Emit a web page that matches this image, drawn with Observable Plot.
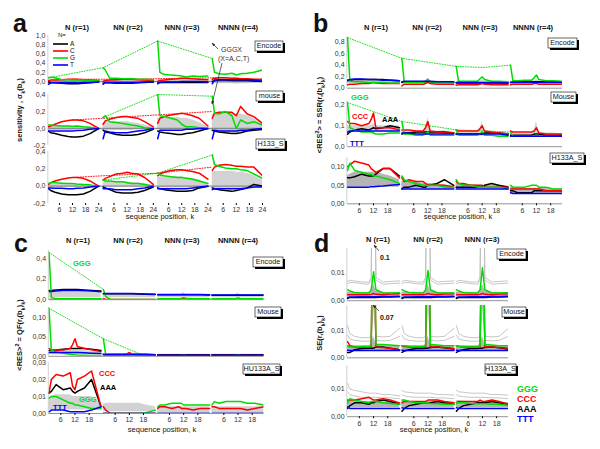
<!DOCTYPE html>
<html><head><meta charset="utf-8">
<script src="https://cdn.jsdelivr.net/npm/d3@7"></script>
<script src="https://cdn.jsdelivr.net/npm/@observablehq/plot@0.6"></script>
<style>
body{margin:0;background:#fff}
#root{position:relative;width:600px;height:449px;overflow:hidden;font-family:"Liberation Sans",Arial,sans-serif;background:#fff}
</style>
</head><body><div id="root"></div>
<script>
// ---------- sampling positions and tick labels ----------
const kA = [1,2,4,7,10,12,14,17,20,24];
const kB = [1,2,4,7,10,11,12,13,16,19,23];
const segTitles4 = ["N (r=1)","NN (r=2)","NNN (r=3)","NNNN (r=4)"];
const segTitles3 = ["N (r=1)","NN (r=2)","NNN (r=3)"];
const xTicksA = [6,12,18,24];
const xTicksB = [6,12,18];

// ---------- panel a : Encode ----------
const aEnc_G = [[0.08,0.09,0.08,0.04,0.04,0.03,0.03,0.03,0.02,0.01],[0.30,0.25,0.07,0.07,0.06,0.06,0.06,0.05,0.05,0.04],[0.88,0.20,0.15,0.14,0.13,0.12,0.10,0.12,0.11,0.12],[0.50,0.20,0.17,0.16,0.18,0.14,0.17,0.18,0.20,0.25]];
const aEnc_C = [[0.02,0.03,0.03,0.04,0.05,0.05,0.05,0.04,0.03,0.02],[0.00,0.02,0.03,0.04,0.05,0.05,0.05,0.04,0.03,0.02],[0.00,0.02,0.03,0.05,0.06,0.07,0.07,0.06,0.05,0.04],[0.05,0.07,0.08,0.08,0.07,0.07,0.06,0.06,0.05,0.05]];
const aEnc_A = [[-0.01,-0.02,-0.03,-0.04,-0.05,-0.05,-0.05,-0.04,-0.03,-0.01],[-0.04,-0.03,-0.03,-0.04,-0.04,-0.04,-0.04,-0.03,-0.02,-0.01],[-0.03,-0.02,-0.02,-0.02,-0.02,-0.02,-0.02,-0.02,-0.02,-0.02],[0.00,0.02,0.03,0.03,0.02,0.02,0.02,0.02,0.01,0.00]];
const aEnc_T = [[-0.06,-0.03,-0.03,-0.03,-0.03,-0.03,-0.03,-0.02,-0.02,-0.01],[-0.06,-0.02,-0.02,-0.02,-0.02,-0.02,-0.02,-0.02,-0.01,-0.01],[-0.05,-0.02,-0.01,-0.01,-0.01,0.00,0.00,0.00,0.00,-0.01],[-0.05,0.03,0.04,0.04,0.04,0.04,0.04,0.04,0.03,0.01]];
const aEnc_lo = [[-0.03,-0.03,-0.03,-0.03,-0.03,-0.03,-0.03,-0.03,-0.02,-0.01],[-0.03,-0.03,-0.03,-0.03,-0.03,-0.03,-0.03,-0.03,-0.02,-0.01],[-0.04,-0.04,-0.04,-0.04,-0.04,-0.04,-0.04,-0.03,-0.03,-0.02],[-0.05,-0.05,-0.05,-0.05,-0.05,-0.06,-0.05,-0.05,-0.04,-0.02]];
const aEnc_hi = [[0.02,0.03,0.03,0.03,0.03,0.03,0.03,0.03,0.02,0.01],[0.03,0.03,0.03,0.03,0.03,0.03,0.03,0.03,0.02,0.01],[0.05,0.05,0.05,0.05,0.05,0.05,0.05,0.04,0.04,0.03],[0.08,0.08,0.07,0.07,0.07,0.08,0.07,0.06,0.05,0.04]];
const aEnc_dotG = [[0,1,0.08],[1,1,0.30],[2,1,0.88],[3,1,0.50]];
const aEnc_dotC = [[0,12,0.05],[1,12,0.05],[2,12,0.07],[3,4,0.08]];

// ---------- panel a : mouse ----------
const aMou_G = [[0.04,0.04,0.035,0.03,0.03,0.025,0.03,0.02,0.015,0.0],[0.13,0.15,0.08,0.07,0.06,0.05,0.04,0.03,0.01,0.0],[0.40,0.15,0.14,0.12,0.10,0.05,0.02,0.02,0.01,0.0],[0.38,0.18,0.17,0.20,0.15,0.0,0.10,0.06,0.08,0.04]];
const aMou_C = [[0.02,0.03,0.05,0.08,0.095,0.10,0.10,0.09,0.06,0.0],[0.05,0.09,0.11,0.13,0.14,0.14,0.13,0.12,0.08,0.02],[0.06,0.12,0.14,0.16,0.17,0.18,0.17,0.15,0.12,0.03],[0.12,0.18,0.19,0.19,0.19,0.15,0.26,0.17,0.14,0.06]];
const aMou_A = [[-0.03,-0.05,-0.06,-0.08,-0.095,-0.10,-0.10,-0.09,-0.06,0.0],[-0.02,-0.04,-0.05,-0.07,-0.08,-0.08,-0.08,-0.07,-0.05,-0.01],[-0.03,-0.04,-0.05,-0.06,-0.07,-0.07,-0.06,-0.05,-0.03,0.0],[-0.02,-0.03,-0.04,-0.05,-0.06,-0.06,-0.05,-0.03,-0.02,-0.01]];
const aMou_T = [[-0.03,-0.03,-0.03,-0.03,-0.03,-0.03,-0.025,-0.02,-0.01,0.0],[-0.12,-0.03,-0.04,-0.05,-0.05,-0.05,-0.04,-0.03,-0.02,0.0],[-0.12,-0.02,-0.02,-0.02,-0.02,-0.02,-0.01,-0.01,0.0,0.0],[-0.12,-0.02,-0.03,-0.03,-0.03,-0.03,-0.02,-0.02,-0.01,0.0]];
const aMou_lo = [[-0.02,-0.02,-0.02,-0.02,-0.02,-0.02,-0.02,-0.01,-0.01,0.0],[-0.02,-0.02,-0.02,-0.02,-0.02,-0.02,-0.02,-0.01,-0.01,0.0],[-0.01,-0.01,-0.01,-0.01,-0.01,-0.01,-0.01,-0.01,0.0,0.0],[-0.04,-0.04,-0.04,-0.05,-0.05,-0.07,-0.05,-0.04,-0.03,-0.01]];
const aMou_hi = [[0.02,0.03,0.03,0.03,0.03,0.03,0.03,0.02,0.01,0.0],[0.06,0.08,0.08,0.08,0.08,0.08,0.07,0.06,0.04,0.01],[0.12,0.12,0.13,0.13,0.13,0.12,0.12,0.10,0.07,0.02],[0.17,0.17,0.18,0.18,0.18,0.17,0.17,0.15,0.12,0.05]];
const aMou_dotG = [[1,1,0.13],[2,1,0.40],[3,1,0.38]];
const aMou_dotC = [[0,12,0.10],[1,1,0.12],[2,1,0.16],[3,1,0.20]];

// ---------- panel a : H133_S ----------
const aH_G = [[0.03,0.04,0.04,0.035,0.03,0.03,0.025,0.02,0.015,0.0],[0.07,0.06,0.06,0.05,0.05,0.04,0.03,0.03,0.02,0.0],[0.15,0.13,0.12,0.11,0.10,0.10,0.09,0.08,0.06,0.03],[0.36,0.25,0.23,0.21,0.20,0.20,0.19,0.18,0.14,0.09]];
const aH_C = [[0.02,0.04,0.06,0.08,0.095,0.10,0.10,0.09,0.06,0.0],[0.07,0.09,0.11,0.14,0.15,0.16,0.15,0.14,0.10,0.02],[0.12,0.14,0.16,0.18,0.19,0.19,0.18,0.17,0.15,0.08],[0.18,0.22,0.24,0.25,0.24,0.23,0.23,0.22,0.22,0.12]];
const aH_A = [[-0.03,-0.05,-0.07,-0.09,-0.10,-0.10,-0.10,-0.09,-0.06,0.0],[-0.01,-0.02,-0.04,-0.07,-0.08,-0.08,-0.08,-0.07,-0.05,-0.01],[-0.02,-0.03,-0.04,-0.05,-0.06,-0.06,-0.06,-0.05,-0.02,0.0],[-0.02,-0.03,-0.04,-0.05,-0.06,-0.05,-0.04,-0.02,0.02,0.0]];
const aH_T = [[-0.02,-0.02,-0.025,-0.025,-0.03,-0.03,-0.025,-0.02,-0.01,0.0],[-0.03,-0.03,-0.03,-0.04,-0.04,-0.04,-0.04,-0.03,-0.02,0.0],[-0.03,-0.03,-0.03,-0.03,-0.03,-0.03,-0.03,-0.02,-0.01,0.0],[-0.04,-0.03,-0.03,-0.03,-0.03,-0.03,-0.03,-0.02,-0.01,-0.01]];
const aH_lo = [[-0.01,-0.01,-0.01,-0.01,-0.01,-0.01,-0.01,-0.01,0.0,0.0],[-0.01,-0.01,-0.01,-0.01,-0.01,-0.01,-0.01,-0.01,0.0,0.0],[-0.02,-0.02,-0.02,-0.02,-0.02,-0.02,-0.02,-0.01,-0.01,0.0],[-0.03,-0.03,-0.03,-0.03,-0.03,-0.03,-0.03,-0.02,-0.02,-0.01]];
const aH_hi = [[0.02,0.02,0.02,0.02,0.02,0.02,0.02,0.02,0.01,0.0],[0.04,0.05,0.05,0.05,0.05,0.05,0.04,0.04,0.03,0.01],[0.10,0.11,0.11,0.11,0.11,0.11,0.10,0.09,0.07,0.03],[0.16,0.17,0.17,0.17,0.17,0.16,0.16,0.15,0.12,0.07]];
const aH_dotG = [[1,1,0.07],[2,1,0.15],[3,1,0.36]];
const aH_dotC = [[0,12,0.10],[1,1,0.12],[2,1,0.15],[3,1,0.22]];

// ---------- panel b : Encode ----------
const bEnc_G = [[0.88,0.12,0.11,0.11,0.10,0.10,0.10,0.10,0.10,0.09,0.09],[0.52,0.10,0.10,0.10,0.10,0.12,0.16,0.11,0.10,0.10,0.10],[0.38,0.12,0.12,0.12,0.12,0.16,0.20,0.15,0.12,0.12,0.11],[0.40,0.13,0.13,0.14,0.14,0.18,0.23,0.15,0.13,0.13,0.12]];
const bEnc_C = [[0.06,0.07,0.07,0.08,0.08,0.09,0.10,0.09,0.08,0.08,0.08],[0.04,0.07,0.07,0.07,0.07,0.08,0.10,0.08,0.07,0.07,0.07],[0.05,0.06,0.06,0.06,0.06,0.07,0.08,0.07,0.06,0.06,0.06],[0.06,0.07,0.07,0.07,0.07,0.08,0.08,0.07,0.07,0.07,0.07]];
const bEnc_A = [[0.13,0.14,0.15,0.15,0.15,0.15,0.15,0.15,0.15,0.14,0.13],[0.10,0.11,0.11,0.11,0.11,0.11,0.11,0.11,0.10,0.10,0.10],[0.09,0.09,0.09,0.09,0.09,0.09,0.09,0.09,0.09,0.09,0.09],[0.10,0.11,0.11,0.11,0.11,0.11,0.11,0.11,0.11,0.11,0.11]];
const bEnc_T = [[0.14,0.15,0.16,0.16,0.15,0.15,0.15,0.15,0.14,0.14,0.13],[0.11,0.12,0.12,0.12,0.12,0.12,0.12,0.12,0.11,0.11,0.11],[0.10,0.10,0.10,0.10,0.10,0.10,0.10,0.10,0.10,0.10,0.09],[0.10,0.10,0.10,0.10,0.10,0.10,0.10,0.10,0.10,0.10,0.10]];
const bEnc_lo = [[0.08,0.08,0.08,0.08,0.08,0.08,0.08,0.08,0.08,0.08,0.08],[0.08,0.08,0.08,0.08,0.08,0.08,0.08,0.08,0.08,0.08,0.08],[0.07,0.07,0.07,0.07,0.07,0.07,0.07,0.07,0.07,0.07,0.07],[0.08,0.08,0.08,0.08,0.08,0.08,0.08,0.08,0.08,0.08,0.08]];
const bEnc_hi = [[0.15,0.15,0.15,0.15,0.15,0.15,0.16,0.15,0.15,0.15,0.14],[0.12,0.12,0.12,0.12,0.12,0.13,0.15,0.12,0.12,0.12,0.12],[0.11,0.11,0.11,0.11,0.11,0.12,0.14,0.12,0.11,0.11,0.11],[0.11,0.11,0.11,0.11,0.11,0.12,0.15,0.12,0.11,0.11,0.11]];
const bEnc_dotG = [[0,1,0.88],[1,1,0.52],[2,1,0.38],[2,12,0.36],[3,1,0.40]];

// ---------- panel b : Mouse ----------
const bMou_G = [[0.21,0.09,0.08,0.07,0.07,0.07,0.065,0.06,0.06,0.065,0.065],[0.12,0.06,0.06,0.055,0.055,0.06,0.07,0.055,0.055,0.055,0.055],[0.08,0.055,0.055,0.055,0.055,0.06,0.07,0.055,0.055,0.05,0.05],[0.07,0.05,0.05,0.05,0.05,0.05,0.055,0.05,0.05,0.05,0.05]];
const bMou_C = [[0.12,0.11,0.11,0.10,0.11,0.13,0.16,0.09,0.09,0.09,0.08],[0.08,0.08,0.08,0.075,0.075,0.09,0.12,0.075,0.07,0.065,0.065],[0.08,0.075,0.075,0.075,0.075,0.085,0.10,0.075,0.07,0.065,0.06],[0.075,0.07,0.07,0.07,0.07,0.075,0.09,0.065,0.06,0.06,0.06]];
const bMou_A = [[0.06,0.07,0.08,0.085,0.08,0.085,0.09,0.085,0.09,0.10,0.09],[0.06,0.065,0.065,0.07,0.07,0.07,0.07,0.07,0.07,0.07,0.065],[0.06,0.06,0.06,0.06,0.06,0.06,0.06,0.065,0.065,0.065,0.06],[0.055,0.055,0.055,0.055,0.055,0.06,0.06,0.06,0.055,0.055,0.055]];
const bMou_T = [[0.07,0.075,0.075,0.075,0.075,0.075,0.075,0.075,0.075,0.075,0.075],[0.065,0.065,0.065,0.06,0.06,0.06,0.06,0.06,0.06,0.06,0.06],[0.06,0.06,0.06,0.06,0.06,0.06,0.06,0.06,0.06,0.06,0.055],[0.05,0.05,0.05,0.05,0.05,0.05,0.05,0.05,0.05,0.05,0.05]];
const bMou_lo = [[0.065,0.07,0.07,0.07,0.07,0.07,0.07,0.07,0.07,0.07,0.07],[0.055,0.055,0.055,0.055,0.055,0.055,0.055,0.055,0.055,0.055,0.055],[0.05,0.05,0.05,0.05,0.05,0.05,0.05,0.05,0.05,0.05,0.05],[0.048,0.048,0.048,0.048,0.048,0.048,0.048,0.048,0.048,0.048,0.048]];
const bMou_hi = [[0.10,0.10,0.10,0.10,0.10,0.10,0.11,0.10,0.10,0.10,0.10],[0.075,0.075,0.075,0.075,0.075,0.085,0.14,0.08,0.075,0.075,0.07],[0.07,0.07,0.07,0.07,0.07,0.08,0.12,0.075,0.07,0.07,0.065],[0.065,0.065,0.065,0.065,0.065,0.075,0.12,0.07,0.065,0.065,0.06]];
const bMou_dotG = [[0,1,0.21],[1,1,0.12],[2,1,0.08],[3,1,0.07]];

// ---------- panel b : H133A_S ----------
const bH_G = [[0.09,0.11,0.09,0.085,0.08,0.08,0.075,0.075,0.07,0.065,0.055],[0.075,0.065,0.06,0.055,0.05,0.05,0.048,0.05,0.05,0.045,0.045],[0.065,0.055,0.05,0.05,0.045,0.045,0.045,0.045,0.045,0.045,0.04],[0.05,0.045,0.045,0.045,0.05,0.05,0.05,0.045,0.045,0.04,0.04]];
const bH_C = [[0.10,0.105,0.115,0.11,0.105,0.095,0.09,0.085,0.095,0.095,0.07],[0.07,0.06,0.065,0.06,0.06,0.055,0.05,0.05,0.05,0.05,0.045],[0.06,0.055,0.055,0.05,0.05,0.05,0.05,0.045,0.045,0.045,0.045],[0.04,0.04,0.04,0.04,0.04,0.04,0.04,0.04,0.035,0.035,0.035]];
const bH_A = [[0.07,0.07,0.073,0.08,0.075,0.075,0.075,0.08,0.095,0.095,0.075],[0.04,0.045,0.045,0.05,0.045,0.045,0.05,0.05,0.055,0.065,0.05],[0.045,0.045,0.045,0.045,0.045,0.045,0.045,0.05,0.055,0.05,0.045],[0.035,0.035,0.03,0.03,0.03,0.035,0.035,0.035,0.035,0.035,0.035]];
const bH_T = [[0.045,0.045,0.045,0.045,0.045,0.046,0.046,0.047,0.048,0.05,0.052],[0.04,0.04,0.04,0.04,0.04,0.04,0.04,0.04,0.04,0.04,0.04],[0.04,0.04,0.04,0.04,0.04,0.04,0.04,0.04,0.04,0.04,0.04],[0.03,0.028,0.028,0.028,0.028,0.028,0.028,0.028,0.028,0.028,0.028]];
const bH_lo = [[0.045,0.045,0.045,0.045,0.045,0.045,0.045,0.045,0.045,0.045,0.045],[0.04,0.04,0.04,0.04,0.04,0.04,0.04,0.04,0.04,0.04,0.04],[0.04,0.04,0.04,0.04,0.04,0.04,0.04,0.04,0.04,0.04,0.04],[0.028,0.028,0.028,0.028,0.028,0.028,0.028,0.028,0.028,0.028,0.028]];
const bH_hi = [[0.075,0.08,0.085,0.085,0.085,0.085,0.085,0.085,0.08,0.075,0.065],[0.06,0.06,0.06,0.058,0.055,0.055,0.055,0.055,0.055,0.05,0.05],[0.055,0.055,0.053,0.052,0.05,0.05,0.05,0.05,0.05,0.05,0.048],[0.045,0.045,0.043,0.042,0.042,0.042,0.042,0.042,0.042,0.04,0.04]];

// ---------- panel c : Encode ----------
const cEnc_G = [[0.46,0.02,0.01,0.01,0.01,0.01,0.01,0.01,0.01,0.01,0.01],[0.10,0.03,0.004,0.002,0.002,0.002,0.002,0.002,0.002,0.002,0.002],[0.01,0.01,0.01,0.01,0.01,0.014,0.02,0.014,0.01,0.01,0.01],[0.01,0.01,0.01,0.01,0.01,0.012,0.016,0.012,0.01,0.01,0.01]];
const cEnc_C = [[0.003,0.003,0.003,0.003,0.003,0.003,0.003,0.003,0.003,0.003,0.003],[0.01,0.004,0.002,0.002,0.002,0.002,0.002,0.002,0.002,0.002,0.002],[0.002,0.002,0.002,0.002,0.002,0.006,0.012,0.006,0.002,0.002,0.002],[0.002,0.002,0.002,0.002,0.002,0.006,0.012,0.006,0.002,0.002,0.002]];
const cEnc_A = [[0.09,0.09,0.095,0.10,0.10,0.10,0.10,0.10,0.095,0.09,0.085],[0.057,0.057,0.057,0.057,0.057,0.057,0.057,0.057,0.055,0.054,0.051],[0.047,0.047,0.047,0.047,0.047,0.047,0.047,0.047,0.047,0.047,0.045],[0.043,0.043,0.043,0.043,0.043,0.043,0.043,0.043,0.043,0.043,0.043]];
const cEnc_T = [[0.08,0.08,0.085,0.09,0.09,0.09,0.09,0.09,0.088,0.084,0.078],[0.06,0.06,0.06,0.06,0.06,0.06,0.06,0.06,0.058,0.056,0.054],[0.05,0.05,0.05,0.05,0.05,0.05,0.05,0.05,0.05,0.05,0.048],[0.045,0.045,0.045,0.045,0.045,0.045,0.045,0.045,0.045,0.045,0.045]];
const cEnc_lo = [[0.02,0.02,0.02,0.02,0.02,0.02,0.02,0.02,0.02,0.02,0.02],[0.02,0.02,0.02,0.02,0.02,0.02,0.02,0.02,0.02,0.02,0.02],[0.02,0.02,0.02,0.02,0.02,0.02,0.02,0.02,0.02,0.02,0.02],[0.02,0.02,0.02,0.02,0.02,0.02,0.02,0.02,0.02,0.02,0.02]];
const cEnc_hi = [[0.07,0.07,0.075,0.075,0.075,0.075,0.075,0.075,0.07,0.07,0.065],[0.055,0.055,0.055,0.055,0.055,0.055,0.055,0.055,0.055,0.05,0.05],[0.045,0.045,0.045,0.045,0.045,0.05,0.07,0.05,0.045,0.045,0.045],[0.04,0.04,0.04,0.04,0.04,0.045,0.065,0.045,0.04,0.04,0.04]];
const cEnc_dotG = [[0,1,0.46],[1,1,0.10]];

// ---------- panel c : Mouse ----------
const cMou_G = [[0.123,0.015,0.012,0.008,0.005,0.004,0.004,0.003,0.003,0.002,0.002],[0.045,0.004,0.001,0.001,0.001,0.001,0.001,0.001,0.001,0.001,0.001],[0.001,0.001,0.001,0.001,0.001,0.002,0.003,0.002,0.001,0.001,0.001],[0.001,0.001,0.001,0.001,0.001,0.002,0.003,0.002,0.001,0.001,0.001]];
const cMou_C = [[0.02,0.016,0.016,0.016,0.02,0.03,0.045,0.025,0.02,0.017,0.012],[0.004,0.004,0.004,0.004,0.004,0.006,0.01,0.005,0.004,0.003,0.003],[0.002,0.002,0.002,0.002,0.002,0.002,0.003,0.002,0.002,0.002,0.002],[0.002,0.002,0.002,0.002,0.002,0.002,0.003,0.002,0.002,0.002,0.002]];
const cMou_A = [[0.015,0.015,0.016,0.018,0.02,0.02,0.02,0.02,0.02,0.018,0.015],[0.005,0.005,0.005,0.005,0.005,0.005,0.005,0.005,0.005,0.005,0.004],[0.004,0.004,0.004,0.004,0.004,0.004,0.004,0.004,0.004,0.004,0.004],[0.004,0.004,0.004,0.004,0.004,0.004,0.004,0.004,0.004,0.004,0.004]];
const cMou_T = [[0.01,0.01,0.01,0.01,0.01,0.01,0.01,0.01,0.009,0.008,0.007],[0.004,0.004,0.004,0.004,0.004,0.004,0.004,0.004,0.004,0.004,0.004],[0.003,0.003,0.003,0.003,0.003,0.003,0.003,0.003,0.003,0.003,0.003],[0.003,0.003,0.003,0.003,0.003,0.003,0.003,0.003,0.003,0.003,0.003]];
const cMou_lo = [[0.004,0.004,0.004,0.004,0.004,0.004,0.004,0.004,0.004,0.004,0.004],[0.001,0.001,0.001,0.001,0.001,0.001,0.001,0.001,0.001,0.001,0.001],[0.001,0.001,0.001,0.001,0.001,0.001,0.001,0.001,0.001,0.001,0.001],[0.001,0.001,0.001,0.001,0.001,0.001,0.001,0.001,0.001,0.001,0.001]];
const cMou_hi = [[0.014,0.015,0.015,0.015,0.015,0.015,0.016,0.015,0.014,0.013,0.011],[0.006,0.006,0.006,0.006,0.006,0.006,0.007,0.006,0.006,0.006,0.006],[0.005,0.005,0.005,0.005,0.005,0.005,0.006,0.005,0.005,0.005,0.005],[0.005,0.005,0.005,0.005,0.005,0.005,0.006,0.005,0.005,0.005,0.005]];
const cMou_dotG = [[0,1,0.123],[1,1,0.045],[1,19,0.0]];

// ---------- panel c : HU133A_S ----------
const cH_G = [[0.009,0.01,0.01,0.008,0.006,0.006,0.005,0.005,0.004,0.003,0.003],[0.0,0.0,0.0,0.0,0.0,0.0,0.0,0.0,0.0,0.0005,0.002],[0.004,0.005,0.005,0.006,0.006,0.006,0.005,0.005,0.005,0.005,0.005],[0.005,0.007,0.006,0.007,0.007,0.007,0.007,0.007,0.006,0.006,0.005]];
const cH_C = [[0.012,0.02,0.023,0.022,0.024,0.016,0.014,0.02,0.022,0.025,0.004],[0.004,0.002,0.0,0.0,0.0,0.0,0.0,0.0,0.0,0.0,0.0],[0.003,0.004,0.004,0.003,0.004,0.003,0.003,0.003,0.002,0.003,0.003],[0.004,0.004,0.003,0.003,0.003,0.003,0.003,0.003,0.002,0.003,0.004]];
const cH_A = [[0.012,0.013,0.017,0.014,0.015,0.013,0.012,0.013,0.015,0.02,0.004],[0.0,0.0,0.0,0.0,0.0,0.0,0.0,0.0,0.0,0.0,0.0],[0.0,0.0,0.0,0.0,0.0,0.0,0.0,0.0,0.0,0.0,0.0],[0.0,0.0,0.0,0.0,0.0,0.0,0.0,0.0,0.0,0.0,0.0]];
const cH_T = [[0.001,0.002,0.002,0.002,0.001,0.001,0.001,0.001,0.001,0.002,0.004],[0.0,0.0,0.0,0.0,0.0,0.0,0.0,0.0,0.0,0.0,0.0],[0.0,0.0,0.0,0.0,0.0,0.0,0.0,0.0,0.0,0.0,0.0],[0.0,0.0,0.0,0.0,0.0,0.0,0.0,0.0,0.0,0.0,0.0]];
const cH_lo = [[0.002,0.002,0.002,0.002,0.002,0.002,0.002,0.002,0.002,0.002,0.002],[0.001,0.001,0.001,0.001,0.001,0.001,0.001,0.001,0.001,0.001,0.001],[0.0005,0.0005,0.0005,0.0005,0.0005,0.0005,0.0005,0.0005,0.0005,0.0005,0.0005],[0.0005,0.0005,0.0005,0.0005,0.0005,0.0005,0.0005,0.0005,0.0005,0.0005,0.0005]];
const cH_hi = [[0.008,0.01,0.011,0.011,0.011,0.01,0.01,0.01,0.01,0.01,0.006],[0.005,0.006,0.006,0.006,0.006,0.006,0.006,0.006,0.006,0.005,0.004],[0.004,0.004,0.004,0.004,0.004,0.004,0.004,0.004,0.004,0.004,0.004],[0.004,0.004,0.004,0.004,0.004,0.004,0.004,0.004,0.004,0.004,0.004]];

// ---------- panel d : Encode ----------
const dEnc_G = [[0.004,0.0035,0.003,0.0028,0.0028,0.004,0.0105,0.004,0.0028,0.0028,0.0029],[0.004,0.0035,0.003,0.0028,0.0028,0.004,0.011,0.004,0.0028,0.0028,0.0028],[0.004,0.0035,0.003,0.0028,0.0028,0.004,0.012,0.004,0.0028,0.0028,0.0029]];
const dEnc_C = [[0.0022,0.0022,0.0022,0.0022,0.0022,0.0023,0.0026,0.0023,0.0022,0.0024,0.0025],[0.0022,0.0022,0.0022,0.0022,0.0022,0.0023,0.0026,0.0023,0.0022,0.0024,0.0025],[0.0022,0.0022,0.0022,0.0022,0.0022,0.0023,0.0026,0.0023,0.0022,0.0024,0.0025]];
const dEnc_A = [[0.0008,0.0012,0.0012,0.0012,0.0012,0.0012,0.0012,0.0012,0.0013,0.0013,0.0014],[0.0008,0.0012,0.0012,0.0012,0.0012,0.0012,0.0012,0.0012,0.0013,0.0013,0.0014],[0.0008,0.0012,0.0012,0.0012,0.0012,0.0012,0.0012,0.0012,0.0013,0.0013,0.0014]];
const dEnc_T = [[0.0012,0.0013,0.0013,0.0014,0.0014,0.0014,0.0014,0.0014,0.0015,0.0015,0.0016],[0.0012,0.0013,0.0013,0.0014,0.0014,0.0014,0.0014,0.0014,0.0015,0.0015,0.0016],[0.0012,0.0013,0.0013,0.0014,0.0014,0.0014,0.0014,0.0014,0.0015,0.0015,0.0016]];
const dEnc_lo = [[0.0016,0.0016,0.0016,0.0016,0.0016,0.0016,0.0016,0.0016,0.0016,0.0016,0.0016],[0.0016,0.0016,0.0016,0.0016,0.0016,0.0016,0.0016,0.0016,0.0016,0.0016,0.0016],[0.0016,0.0016,0.0016,0.0016,0.0016,0.0016,0.0016,0.0016,0.0016,0.0016,0.0016]];
const dEnc_hi = [[0.0032,0.003,0.003,0.003,0.003,0.0035,0.006,0.0035,0.003,0.003,0.003],[0.0032,0.003,0.003,0.003,0.003,0.0035,0.006,0.0035,0.003,0.003,0.003],[0.0032,0.003,0.003,0.003,0.003,0.0035,0.006,0.0035,0.003,0.003,0.003]];
const dEnc_g1 = [[0.0062,0.0066,0.0066,0.0062,0.006,0.0075,0.1,0.0075,0.006,0.0062,0.0064],[0.0062,0.0066,0.0066,0.0062,0.006,0.0075,0.1,0.0075,0.006,0.0062,0.0064],[0.0062,0.0066,0.0066,0.0062,0.006,0.0075,0.1,0.0075,0.006,0.0062,0.0064]];
const dEnc_g2 = [[0.007,0.0074,0.0072,0.0068,0.0068,0.0085,0.1,0.0085,0.0068,0.007,0.0072],[0.007,0.0074,0.0072,0.0068,0.0068,0.0085,0.1,0.0085,0.0068,0.007,0.0072],[0.007,0.0074,0.0072,0.0068,0.0068,0.0085,0.1,0.0085,0.0068,0.007,0.0072]];

// ---------- panel d : Mouse ----------
const dMou_G = [[0.0045,0.004,0.004,0.0042,0.0042,0.0045,0.07,0.005,0.005,0.0048,0.0045],[0.0045,0.0045,0.0043,0.0042,0.0042,0.0045,0.07,0.005,0.0048,0.0045,0.0045],[0.0045,0.0042,0.0042,0.004,0.004,0.0045,0.07,0.005,0.0048,0.0045,0.0045]];
const dMou_C = [[0.006,0.0045,0.004,0.004,0.004,0.004,0.07,0.004,0.0038,0.0035,0.003],[0.0045,0.0042,0.004,0.004,0.004,0.004,0.07,0.004,0.004,0.0038,0.0035],[0.0045,0.0042,0.004,0.004,0.004,0.004,0.07,0.004,0.004,0.0038,0.0035]];
const dMou_A = [[0.002,0.002,0.003,0.0035,0.0036,0.0036,0.0036,0.004,0.004,0.0036,0.003],[0.002,0.0025,0.003,0.0035,0.0035,0.0036,0.0036,0.0038,0.004,0.0037,0.0033],[0.002,0.0025,0.003,0.0035,0.0035,0.0036,0.0036,0.0038,0.004,0.0037,0.0033]];
const dMou_T = [[0.0028,0.0027,0.0027,0.0027,0.0027,0.0027,0.0027,0.0027,0.0027,0.0027,0.0027],[0.0028,0.0027,0.0027,0.0027,0.0027,0.0027,0.0027,0.0027,0.0027,0.0027,0.0027],[0.0028,0.0027,0.0027,0.0027,0.0027,0.0027,0.0027,0.0027,0.0027,0.0027,0.0027]];
const dMou_lo = [[0.0026,0.0026,0.0026,0.0026,0.0026,0.0026,0.0026,0.0026,0.0026,0.0026,0.0026],[0.0026,0.0026,0.0026,0.0026,0.0026,0.0026,0.0026,0.0026,0.0026,0.0026,0.0026],[0.0026,0.0026,0.0026,0.0026,0.0026,0.0026,0.0026,0.0026,0.0026,0.0026,0.0026]];
const dMou_hi = [[0.0045,0.0045,0.0045,0.0045,0.0045,0.005,0.008,0.005,0.0045,0.0045,0.0045],[0.0045,0.0045,0.0045,0.0045,0.0045,0.005,0.008,0.005,0.0045,0.0045,0.0045],[0.0045,0.0045,0.0045,0.0045,0.0045,0.005,0.008,0.005,0.0045,0.0045,0.0045]];
const dMou_g1 = [[0.012,0.009,0.008,0.0075,0.0075,0.008,0.02,0.008,0.0078,0.008,0.011],[0.012,0.009,0.008,0.0075,0.0075,0.008,0.02,0.008,0.0078,0.008,0.011],[0.012,0.009,0.008,0.0075,0.0075,0.008,0.02,0.008,0.0078,0.008,0.011]];
const dMou_g2 = [[0.0085,0.007,0.0065,0.0062,0.0062,0.0065,0.0065,0.0065,0.0063,0.0065,0.008],[0.0085,0.007,0.0065,0.0062,0.0062,0.0065,0.0065,0.0065,0.0063,0.0065,0.008],[0.0085,0.007,0.0065,0.0062,0.0062,0.0065,0.0065,0.0065,0.0063,0.0065,0.008]];

// ---------- panel d : H133A_S ----------
const dH_G = [[0.005,0.0065,0.006,0.0055,0.005,0.0055,0.0055,0.0055,0.005,0.0048,0.0045],[0.006,0.006,0.0055,0.005,0.005,0.005,0.005,0.0048,0.0047,0.0045,0.0045],[0.005,0.005,0.005,0.0048,0.0047,0.0047,0.0047,0.0047,0.0045,0.0045,0.004]];
const dH_C = [[0.006,0.006,0.006,0.0065,0.007,0.0065,0.006,0.006,0.0065,0.006,0.005],[0.005,0.0055,0.0055,0.0055,0.0055,0.0055,0.006,0.006,0.006,0.0055,0.005],[0.005,0.0055,0.0055,0.0055,0.0055,0.006,0.0055,0.0055,0.006,0.0055,0.0045]];
const dH_A = [[0.003,0.004,0.005,0.005,0.0045,0.005,0.005,0.0055,0.006,0.0055,0.0045],[0.002,0.003,0.004,0.0045,0.005,0.005,0.005,0.005,0.0055,0.005,0.0045],[0.002,0.003,0.004,0.0045,0.005,0.005,0.005,0.005,0.0055,0.005,0.0045]];
const dH_T = [[0.0035,0.003,0.003,0.003,0.003,0.003,0.003,0.003,0.003,0.003,0.003],[0.0032,0.003,0.003,0.003,0.003,0.003,0.003,0.003,0.003,0.003,0.003],[0.0032,0.003,0.003,0.003,0.003,0.003,0.003,0.003,0.003,0.003,0.003]];
const dH_lo = [[0.0032,0.0032,0.0032,0.0032,0.0032,0.0032,0.0032,0.0032,0.0032,0.0032,0.0032],[0.0032,0.0032,0.0032,0.0032,0.0032,0.0032,0.0032,0.0032,0.0032,0.0032,0.0032],[0.0032,0.0032,0.0032,0.0032,0.0032,0.0032,0.0032,0.0032,0.0032,0.0032,0.0032]];
const dH_hi = [[0.0058,0.0058,0.0056,0.0055,0.0055,0.0055,0.0055,0.0055,0.0053,0.0052,0.005],[0.0058,0.0058,0.0056,0.0055,0.0055,0.0055,0.0055,0.0055,0.0053,0.0052,0.005],[0.0058,0.0058,0.0056,0.0055,0.0055,0.0055,0.0055,0.0055,0.0053,0.0052,0.005]];
const dH_g1 = [[0.012,0.010,0.0095,0.009,0.0085,0.0085,0.0085,0.0085,0.008,0.008,0.0075],[0.0095,0.009,0.0088,0.0085,0.0085,0.0085,0.0085,0.0085,0.008,0.008,0.0078],[0.0095,0.009,0.0088,0.0085,0.0085,0.0085,0.0085,0.0085,0.008,0.008,0.0078]];
const dH_g2 = [[0.009,0.008,0.0075,0.007,0.007,0.007,0.007,0.007,0.0068,0.0068,0.0065],[0.008,0.0075,0.0072,0.007,0.007,0.007,0.007,0.007,0.0068,0.0068,0.0065],[0.008,0.0075,0.0072,0.007,0.007,0.007,0.007,0.007,0.0068,0.0068,0.0065]];

// ---------- drawing ----------
const FONT = '"Liberation Sans", Arial, sans-serif';
const COL = {A:"#000000", C:"#ff0000", G:"#00dc00", T:"#0000ff"};
const root = document.getElementById("root");
const fmt = n => d => (d < 0 ? "-" : "") + Math.abs(d).toFixed(n).replace(".", ",");

function rowPlot(d, c) {
  const lines = [], band = [], gray = [];
  for (let s = 0; s < c.nseg; s++) {
    c.K.forEach((k, i) => {
      const x = s * c.off + k;
      band.push({x, s, lo: d.lo[s][i], hi: d.hi[s][i]});
      (d.gray || []).forEach((g, gi) => gray.push({x, z: gi + "_" + s, v: g[s][i]}));
      for (const n of ["A","C","G","T"]) lines.push({x, n, z: n + s, v: d[n][s][i], col: COL[n]});
    });
  }
  const dots = (pts, color) => pts ? Plot.line(pts.map(([s,k,v]) => ({x: s*c.off + k, v})),
      {x: "x", y: "v", stroke: color, strokeWidth: 0.9, strokeDasharray: "1,1.6", clip: true}) : null;
  const marks = [
    Plot.areaY(band, {x: "x", y1: "lo", y2: "hi", z: "s", fill: c.band || "#d2d2d2", clip: true}),
    Plot.lineY(gray, {x: "x", y: "v", z: "z", stroke: "#b8b8b8", strokeWidth: 0.8, clip: true}),
    c.zero ? Plot.ruleY([0], {stroke: "#8c8c8c", strokeWidth: 1.4})
           : Plot.ruleY([c.y[0]], {stroke: "#777", strokeWidth: 0.8}),
    Plot.ruleX([c.xd[0] - 0.3], {stroke: "#b0b0b0", strokeWidth: 0.6}),
    dots(d.dotG, COL.G), dots(d.dotC, COL.C),
    Plot.lineY(lines, {x: "x", y: "v", z: "z", stroke: "col", strokeWidth: 1.5, clip: true}),
    Plot.axisY({ticks: c.yTicks, tickFormat: fmt(c.dec), tickSize: 0, tickPadding: 3, label: null, fill: "#333"})
  ];
  if (c.xTicks) {
    const pos = [], lab = new Map();
    for (let s = 0; s < c.nseg; s++) for (const t of c.xTicks) { pos.push(s*c.off + t); lab.set(s*c.off + t, t); }
    marks.push(Plot.axisX({ticks: pos, tickFormat: v => lab.get(v), tickSize: 2, tickPadding: 2, label: null, fill: "#333"}));
  }
  const mt = 2, mb = c.xTicks ? 14 : 2;
  const el = Plot.plot({
    width: 300, height: (c.py[1] - c.py[0]) + mt + mb,
    marginLeft: c.px[0], marginRight: 300 - c.px[1], marginTop: mt, marginBottom: mb,
    x: {domain: c.xd, axis: c.xTicks ? undefined : null, label: null},
    y: {domain: c.y, label: null},
    style: {fontSize: "7px", fontFamily: FONT, background: "transparent", overflow: "visible"},
    marks
  });
  el.style.position = "absolute";
  el.style.left = c.left + "px";
  el.style.top = (c.py[0] - mt) + "px";
  root.appendChild(el);
}

const A = {K: kA, off: 25, nseg: 4, xd: [1, 99], px: [48, 262], left: 0, zero: true, dec: 1};
const B = {K: kB, off: 23, nseg: 4, xd: [1, 92], px: [47, 262], left: 300};
const C = {K: kB, off: 23, nseg: 4, xd: [1, 92], px: [48.5, 263.5], left: 0};
const D = {K: kB, off: 23, nseg: 3, xd: [1, 69], px: [47, 208], left: 300, band: "#b4b4b4"};

rowPlot({G:aEnc_G,C:aEnc_C,A:aEnc_A,T:aEnc_T,lo:aEnc_lo,hi:aEnc_hi,dotG:aEnc_dotG,dotC:aEnc_dotC},
  {...A, y:[-0.1,1.0], py:[35,85.6], yTicks:[0,0.2,0.4,0.6,0.8,1.0]});
rowPlot({G:aMou_G,C:aMou_C,A:aMou_A,T:aMou_T,lo:aMou_lo,hi:aMou_hi,dotG:aMou_dotG,dotC:aMou_dotC},
  {...A, y:[-0.2,0.4], py:[94,145], yTicks:[-0.2,0,0.2,0.4]});
rowPlot({G:aH_G,C:aH_C,A:aH_A,T:aH_T,lo:aH_lo,hi:aH_hi,dotG:aH_dotG,dotC:aH_dotC},
  {...A, y:[-0.2,0.4], py:[151,203], yTicks:[-0.2,0,0.2,0.4], xTicks: xTicksA});

rowPlot({G:bEnc_G,C:bEnc_C,A:bEnc_A,T:bEnc_T,lo:bEnc_lo,hi:bEnc_hi,dotG:bEnc_dotG},
  {...B, y:[0,0.9], py:[36.3,88], yTicks:[0,0.2,0.4,0.6,0.8], dec:1});
rowPlot({G:bMou_G,C:bMou_C,A:bMou_A,T:bMou_T,lo:bMou_lo,hi:bMou_hi,dotG:bMou_dotG},
  {...B, y:[0,0.22], py:[99.8,146], yTicks:[0,0.1,0.2], dec:1});
rowPlot({G:bH_G,C:bH_C,A:bH_A,T:bH_T,lo:bH_lo,hi:bH_hi},
  {...B, y:[0,0.125], py:[156.7,203], yTicks:[0,0.05,0.1], dec:2, xTicks: xTicksB, band: "#b4b4b4"});

rowPlot({G:cEnc_G,C:cEnc_C,A:cEnc_A,T:cEnc_T,lo:cEnc_lo,hi:cEnc_hi,dotG:cEnc_dotG},
  {...C, y:[0,0.48], py:[249.8,299], yTicks:[0,0.2,0.4], dec:1});
rowPlot({G:cMou_G,C:cMou_C,A:cMou_A,T:cMou_T,lo:cMou_lo,hi:cMou_hi,dotG:cMou_dotG},
  {...C, y:[0,0.125], py:[307.2,356], yTicks:[0,0.05,0.1], dec:2});
rowPlot({G:cH_G,C:cH_C,A:cH_A,T:cH_T,lo:cH_lo,hi:cH_hi},
  {...C, y:[0,0.03], py:[362,413], yTicks:[0,0.01,0.02,0.03], dec:2, xTicks: xTicksB});

rowPlot({G:dEnc_G,C:dEnc_C,A:dEnc_A,T:dEnc_T,lo:dEnc_lo,hi:dEnc_hi,gray:[dEnc_g1,dEnc_g2]},
  {...D, y:[0,0.019], py:[247.8,300], yTicks:[0,0.01], dec:2});
rowPlot({G:dMou_G,C:dMou_C,A:dMou_A,T:dMou_T,lo:dMou_lo,hi:dMou_hi,gray:[dMou_g1,dMou_g2]},
  {...D, y:[0,0.0195], py:[305.2,357.5], yTicks:[0,0.01], dec:2});
rowPlot({G:dH_G,C:dH_C,A:dH_A,T:dH_T,lo:dH_lo,hi:dH_hi,gray:[dH_g1,dH_g2]},
  {...D, y:[0,0.0185], py:[364.8,416], yTicks:[0,0.01], dec:2, xTicks: xTicksB});

// ---------- annotation layer ----------
const svg = d3.select(root).append("svg").attr("width", 600).attr("height", 449)
  .style("position", "absolute").style("left", 0).style("top", 0).style("font-family", FONT);
svg.append("defs").append("marker").attr("id", "ah").attr("viewBox", "0 0 10 10")
  .attr("refX", 9).attr("refY", 5).attr("markerWidth", 5).attr("markerHeight", 5).attr("orient", "auto")
  .append("path").attr("d", "M0,1 L10,5 L0,9 z").attr("fill", "#222");

function t(x, y, s, o = {}) {
  return svg.append("text").attr("x", x).attr("y", y).text(s)
    .attr("font-size", o.size || 7.5).attr("font-weight", o.bold ? "bold" : null)
    .attr("fill", o.fill || "#111").attr("text-anchor", o.anchor || "start");
}
function arrow(x1, y1, x2, y2) {
  svg.append("line").attr("x1", x1).attr("y1", y1).attr("x2", x2).attr("y2", y2)
    .attr("stroke", "#222").attr("stroke-width", 0.7).attr("marker-end", "url(#ah)");
}
function box(x, y, w, h, s) {
  svg.append("rect").attr("x", x + 2).attr("y", y + 2).attr("width", w).attr("height", h).attr("fill", "#000");
  svg.append("rect").attr("x", x).attr("y", y).attr("width", w).attr("height", h)
    .attr("fill", "#fff").attr("stroke", "#000").attr("stroke-width", 0.6);
  t(x + w / 2, y + h / 2 + 2.0, s, {size: 7.2, anchor: "middle"});
}
function ytitle(x, y, parts) {
  const tx = svg.append("text").attr("transform", `translate(${x},${y}) rotate(-90)`)
    .attr("text-anchor", "middle").attr("font-size", 7.5).attr("font-weight", "bold").attr("fill", "#111");
  for (const [s, mode] of parts) {
    const sp = tx.append("tspan").text(s);
    if (mode === "sub") sp.attr("baseline-shift", "sub").attr("font-size", 5.5);
    if (mode === "sup") sp.attr("baseline-shift", "super").attr("font-size", 5.5);
  }
}

// panel letters
t(13, 32, "a", {size: 25, bold: true});
t(313, 32, "b", {size: 25, bold: true});
t(14, 252, "c", {size: 25, bold: true});
t(314, 252, "d", {size: 25, bold: true});

// column titles
[77, 128, 182, 238].forEach((x, i) => t(x, 29.5, segTitles4[i], {bold: true, anchor: "middle"}));
[376, 427, 480, 533].forEach((x, i) => t(x, 29.5, segTitles4[i], {bold: true, anchor: "middle"}));
[78, 128, 182, 238].forEach((x, i) => t(x, 243, segTitles4[i], {bold: true, anchor: "middle"}));
[378, 428, 482].forEach((x, i) => t(x, 242, segTitles3[i], {bold: true, anchor: "middle"}));

// y titles
ytitle(22, 110, [["sensitivity , σ"], ["k", "sub"], ["(b"], ["k", "sub"], [")"]]);
ytitle(322, 115, [["<RES"], ["2", "sup"], ["> = SSR(r,(b"], ["k", "sub"], [")"], ["k", "sub"], [")"]]);
ytitle(22, 335, [["<RES>"], ["2", "sup"], [" = QF(r,(b"], ["k", "sub"], [")"], ["k", "sub"], [")"]]);
ytitle(322, 333, [["SE(r,(b"], ["k", "sub"], [")"], ["k", "sub"], [")"]]);

// x titles
t(160, 219, "sequence position, k", {anchor: "middle"});
t(458, 219, "sequence position, k", {anchor: "middle"});
t(162, 432, "sequence position, k", {anchor: "middle"});
t(434, 432, "sequence position, k", {anchor: "middle"});

// dataset boxes
box(255, 41, 28, 10, "Encode"); box(256, 91, 27, 10, "mouse"); box(256, 139, 29, 10, "H133_S");
box(548, 38, 29, 10, "Encode"); box(551, 92, 25, 10, "Mouse"); box(550, 153, 34, 10, "H133A_S");
box(253, 257, 30, 10, "Encode"); box(255, 307, 26, 10, "Mouse"); box(243, 364, 37, 10, "HU133A_S");
box(497, 249, 29, 10, "Encode"); box(502, 307, 24, 10, "Mouse"); box(485, 364, 31, 10, "H133A_S");

// panel a legend
t(58, 37, "N=", {size: 6});
[["A", 44], ["C", 51], ["G", 58], ["T", 65]].forEach(([n, y]) => {
  svg.append("line").attr("x1", 53).attr("x2", 68).attr("y1", y).attr("y2", y).attr("stroke", COL[n]).attr("stroke-width", 1.6);
  t(70, y + 2.3, n, {size: 6.5});
});
// GGGX annotation
t(221, 52, "GGGX", {size: 7, fill: "#333"});
t(218, 61, "(X=A,C,T)", {size: 7, fill: "#333"});
arrow(218, 49, 212, 43);
arrow(222, 63, 212, 104);

// panel b labels
t(351, 100, "GGG", {bold: true, fill: COL.G, size: 7.5});
t(352, 119, "CCC", {bold: true, fill: COL.C, size: 7.5});
t(382, 122, "AAA", {bold: true, fill: "#000", size: 7.5});
t(350, 146, "TTT", {bold: true, fill: COL.T, size: 7.5});

// panel c labels
t(73, 266, "GGG", {bold: true, fill: COL.G, size: 7.5});
t(99, 376, "CCC", {bold: true, fill: COL.C, size: 7.5});
t(100, 390, "AAA", {bold: true, fill: "#000", size: 7.5});
t(79, 402, "GGG", {bold: true, fill: COL.G, size: 7.5});
t(53, 410, "TTT", {bold: true, fill: COL.T, size: 7.5});

// panel d annotations and legend
t(380, 260, "0.1", {bold: true, size: 7});
arrow(379, 251, 374, 245);
t(380, 320, "0.07", {bold: true, size: 7});
arrow(379, 311, 373, 305);
t(517, 392, "GGG", {bold: true, fill: COL.G, size: 9});
t(517, 402, "CCC", {bold: true, fill: COL.C, size: 9});
t(517, 412, "AAA", {bold: true, fill: "#000", size: 9});
t(517, 422, "TTT", {bold: true, fill: COL.T, size: 9});
</script></body></html>
